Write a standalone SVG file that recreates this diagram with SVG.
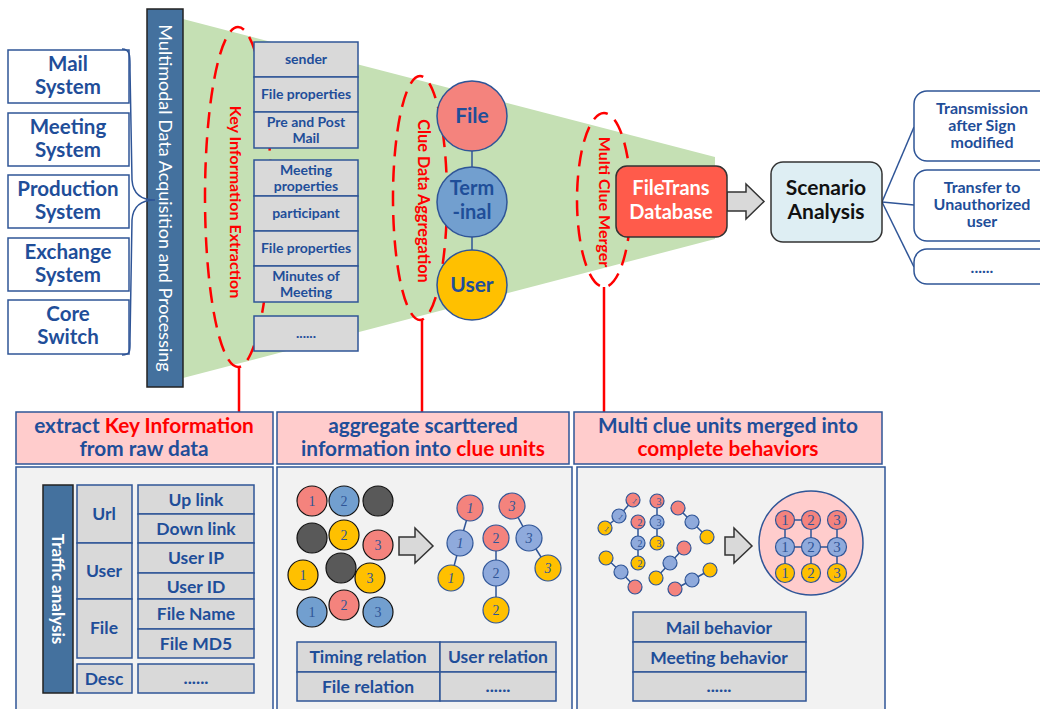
<svg xmlns="http://www.w3.org/2000/svg" width="1040" height="709" viewBox="0 0 1040 709">
  <defs>
    <style>
      .t { font-family: Lato, "Liberation Sans", sans-serif; font-weight: bold; fill: #1F4E99; text-anchor: middle; }
      .red { fill: #FF0000; }
      .wt { font-family: Lato, "Liberation Sans", sans-serif; fill: #FFFFFF; text-anchor: middle; }
      .num { font-family: "Liberation Serif", serif; fill: #2F5597; text-anchor: middle; }
      .sys { fill: #FFFFFF; stroke: #2F5597; stroke-width: 1.5; }
      .gbox { fill: #D9D9D9; stroke: #2F5597; stroke-width: 1.5; }
      .hdr { fill: #FFCCCC; stroke: #2F5597; stroke-width: 1.5; }
      .body { fill: #F2F2F2; stroke: #2F5597; stroke-width: 1.5; }
      .bar { fill: #44719E; stroke: #222222; stroke-width: 1.5; }
      .dash { fill: none; stroke: #FF0000; stroke-width: 2.5; stroke-dasharray: 16 9; }
      .rline { stroke: #FF0000; stroke-width: 2.5; fill: none; }
      .bl { stroke: #2F5597; stroke-width: 1.5; fill: none; }
      .cR { fill: #F4837D; stroke: #2F5597; stroke-width: 1.2; }
      .cB { fill: #8FAADC; stroke: #2F5597; stroke-width: 1.2; }
      .cY { fill: #FFC000; stroke: #2F5597; stroke-width: 1.2; }
      .kR { fill: #F4837D; stroke: #111111; stroke-width: 1.2; }
      .kB { fill: #729FCF; stroke: #111111; stroke-width: 1.2; }
      .kY { fill: #FFC000; stroke: #111111; stroke-width: 1.2; }
      .kD { fill: #595959; stroke: #111111; stroke-width: 1.2; }
      .blk { fill: #D9D9D9; stroke: #333333; stroke-width: 1.5; }
      .s21 { font-size: 20.5px; }
      .hd { font-size: 20.8px; }
      .s14 { font-size: 14px; }
      .s17 { font-size: 17.5px; }
      .s16 { font-size: 16px; }
    </style>
  </defs>

  <!-- funnel background -->
  <polygon points="183,19 715,157 715,239 183,378" fill="#C5E0B4"/>

  <!-- source systems -->
  <g id="mail-system">
    <rect class="sys" x="8" y="50" width="121" height="53"/>
    <text class="t s21" x="68" y="71">Mail</text>
    <text class="t s21" x="68" y="94">System</text>
  </g>
  <g id="meeting-system">
    <rect class="sys" x="8" y="113" width="121" height="53"/>
    <text class="t s21" x="68" y="134">Meeting</text>
    <text class="t s21" x="68" y="157">System</text>
  </g>
  <g id="production-system">
    <rect class="sys" x="8" y="175" width="121" height="53"/>
    <text class="t s21" x="68" y="196">Production</text>
    <text class="t s21" x="68" y="219">System</text>
  </g>
  <g id="exchange-system">
    <rect class="sys" x="8" y="238" width="121" height="53"/>
    <text class="t s21" x="68" y="259">Exchange</text>
    <text class="t s21" x="68" y="282">System</text>
  </g>
  <g id="core-switch">
    <rect class="sys" x="8" y="300" width="121" height="54"/>
    <text class="t s21" x="68" y="321">Core</text>
    <text class="t s21" x="68" y="344">Switch</text>
  </g>

  <!-- acquisition bar -->
  <g id="acquisition">
    <rect class="bar" x="147" y="9" width="36" height="378"/>
    <g transform="translate(165,198) rotate(90)">
      <text class="wt" font-size="18" x="0" y="6">Multimodal Data Acquisition and Processing</text>
    </g>
  </g>

  <!-- dashed stage ellipses -->
  <g id="stage-key-extraction">
    <ellipse class="dash" cx="238" cy="197" rx="33" ry="170"/>
    <g transform="translate(235,202) rotate(90)">
      <text class="t red" font-size="16" x="0" y="5.5">Key Information Extraction</text>
    </g>
  </g>
  <g id="stage-clue-aggregation">
    <ellipse class="dash" cx="420" cy="198" rx="27" ry="122"/>
    <g transform="translate(423,201) rotate(90)">
      <text class="t red" font-size="16.3" x="0" y="5.5">Clue Data Aggregation</text>
    </g>
  </g>
  <g id="stage-clue-merger">
    <ellipse class="dash" cx="604" cy="200" rx="27" ry="87"/>
    <g transform="translate(604,202) rotate(90)">
      <text class="t red" font-size="16" x="0" y="5.5">Multi Clue Merger</text>
    </g>
  </g>

  <!-- extracted key information -->
  <g id="key-info">
    <rect class="gbox" x="254" y="42" width="104" height="35"/>
    <text class="t s14" x="306" y="64">sender</text>
    <rect class="gbox" x="254" y="77" width="104" height="35"/>
    <text class="t s14" x="306" y="99">File properties</text>
    <rect class="gbox" x="254" y="112" width="104" height="36"/>
    <text class="t s14" x="306" y="127">Pre and Post</text>
    <text class="t s14" x="306" y="143">Mail</text>
    <rect class="gbox" x="254" y="160" width="104" height="36"/>
    <text class="t s14" x="306" y="175">Meeting</text>
    <text class="t s14" x="306" y="191">properties</text>
    <rect class="gbox" x="254" y="196" width="104" height="35"/>
    <text class="t s14" x="306" y="218">participant</text>
    <rect class="gbox" x="254" y="231" width="104" height="35"/>
    <text class="t s14" x="306" y="253">File properties</text>
    <rect class="gbox" x="254" y="266" width="104" height="36"/>
    <text class="t s14" x="306" y="281">Minutes of</text>
    <text class="t s14" x="306" y="297">Meeting</text>
    <rect class="gbox" x="254" y="316" width="104" height="35"/>
    <text class="t s14" x="306" y="338">......</text>
  </g>

  <!-- connectors -->
  <g id="connectors">
    <path class="bl" d="M122,49 C131,49 130,58 130,70 L132,180 C133,194 142,200 155,200 C142,200 133,206 132,220 L130,340 C130,350 131,355 122,355"/>
    <line class="bl" x1="472" y1="151" x2="472" y2="167"/>
    <line class="bl" x1="472" y1="237" x2="472" y2="250"/>
    <line class="rline" x1="239" y1="367" x2="239" y2="412"/>
    <line class="rline" x1="422" y1="320" x2="422" y2="412"/>
    <line class="rline" x1="604" y1="287" x2="604" y2="412"/>
    <polygon class="blk" points="727,192 746,192 746,184 764,201.5 746,219 746,211 727,211"/>
    <line class="bl" x1="882" y1="202" x2="914" y2="127"/>
    <line class="bl" x1="882" y1="202" x2="914" y2="205"/>
    <line class="bl" x1="882" y1="202" x2="914" y2="267"/>
  </g>

  <!-- clue units -->
  <g id="clue-file">
    <circle cx="472" cy="116" r="35" fill="#F4837D" stroke="#2F5597" stroke-width="1.5"/>
    <text class="t" font-size="21" x="472" y="123">File</text>
  </g>
  <g id="clue-terminal">
    <circle cx="472" cy="202" r="35" fill="#729FCF" stroke="#2F5597" stroke-width="1.5"/>
    <text class="t" font-size="20" x="472" y="195">Term</text>
    <text class="t" font-size="20" x="472" y="219">-inal</text>
  </g>
  <g id="clue-user">
    <circle cx="472" cy="285" r="35" fill="#FFC000" stroke="#2F5597" stroke-width="1.5"/>
    <text class="t" font-size="21" x="472" y="292">User</text>
  </g>

  <g id="filetrans-db">
    <rect x="616" y="166" width="111" height="71" rx="11" fill="#FF5B4B" stroke="#333333" stroke-width="1.5"/>
    <text class="wt" font-weight="bold" font-size="20" x="671" y="195">FileTrans</text>
    <text class="wt" font-weight="bold" font-size="20" x="671" y="219">Database</text>
  </g>

  <g id="scenario-analysis">
    <rect x="771" y="162" width="111" height="80" rx="12" fill="#DEEEF3" stroke="#333333" stroke-width="1.5"/>
    <text class="t" font-size="21" x="826" y="195" style="fill:#111111">Scenario</text>
    <text class="t" font-size="21" x="826" y="219" style="fill:#111111">Analysis</text>
  </g>

  <g id="scenario-sign-modified">
    <rect class="sys" x="914" y="91" width="140" height="70" rx="13"/>
    <text class="t s16" x="982" y="114">Transmission</text>
    <text class="t s16" x="982" y="131">after Sign</text>
    <text class="t s16" x="982" y="148">modified</text>
  </g>
  <g id="scenario-unauthorized">
    <rect class="sys" x="914" y="170" width="140" height="71" rx="13"/>
    <text class="t s16" x="982" y="193">Transfer to</text>
    <text class="t s16" x="982" y="210">Unauthorized</text>
    <text class="t s16" x="982" y="227">user</text>
  </g>
  <g id="scenario-more">
    <rect class="sys" x="914" y="249" width="140" height="35" rx="13"/>
    <text class="t s16" x="982" y="273">......</text>
  </g>

  <!-- panel 1: key information -->
  <g id="panel-extract">
    <rect class="hdr" x="16" y="412" width="257" height="52"/>
    <text class="t hd" x="144" y="433">extract <tspan class="red">Key Information</tspan></text>
    <text class="t hd" x="144" y="456">from raw data</text>
    <rect class="body" x="16" y="467" width="257" height="250"/>
    <rect class="bar" x="43" y="485" width="30" height="208"/>
    <g transform="translate(58,589) rotate(90)">
      <text class="wt" font-weight="bold" font-size="17" x="0" y="6">Traffic analysis</text>
    </g>
    <rect class="gbox" x="77" y="485" width="55" height="58"/>
    <text class="t s17" x="104" y="520">Url</text>
    <rect class="gbox" x="77" y="543" width="55" height="56"/>
    <text class="t s17" x="104" y="577">User</text>
    <rect class="gbox" x="77" y="599" width="55" height="59"/>
    <text class="t s17" x="104" y="634">File</text>
    <rect class="gbox" x="77" y="664" width="55" height="29"/>
    <text class="t s17" x="104" y="685">Desc</text>
    <rect class="gbox" x="138" y="485" width="116" height="29"/>
    <text class="t s17" x="196" y="506">Up link</text>
    <rect class="gbox" x="138" y="514" width="116" height="29"/>
    <text class="t s17" x="196" y="535">Down link</text>
    <rect class="gbox" x="138" y="543" width="116" height="30"/>
    <text class="t s17" x="196" y="564">User IP</text>
    <rect class="gbox" x="138" y="573" width="116" height="26"/>
    <text class="t s17" x="196" y="593">User ID</text>
    <rect class="gbox" x="138" y="599" width="116" height="30"/>
    <text class="t s17" x="196" y="620">File Name</text>
    <rect class="gbox" x="138" y="629" width="116" height="29"/>
    <text class="t s17" x="196" y="650">File MD5</text>
    <rect class="gbox" x="138" y="664" width="116" height="29"/>
    <text class="t s17" x="196" y="684">......</text>
  </g>

  <!-- panel 2: clue units -->
  <g id="panel-aggregate">
    <rect class="hdr" x="277" y="412" width="292" height="52"/>
    <text class="t hd" x="423" y="433">aggregate scarttered</text>
    <text class="t hd" x="423" y="456">information into <tspan class="red">clue units</tspan></text>
    <rect class="body" x="277" y="467" width="295" height="250"/>
    <!-- scattered pieces -->
    <circle class="kR" cx="312" cy="501" r="15"/><text class="num" font-size="14" x="312" y="506">1</text>
    <circle class="kB" cx="344" cy="501" r="15"/><text class="num" font-size="14" x="344" y="506">2</text>
    <circle class="kD" cx="378" cy="501" r="15"/>
    <circle class="kD" cx="312" cy="538" r="15"/>
    <circle class="kY" cx="344" cy="535" r="15"/><text class="num" font-size="14" x="344" y="540">2</text>
    <circle class="kR" cx="378" cy="545" r="15"/><text class="num" font-size="14" x="378" y="550">3</text>
    <circle class="kY" cx="303" cy="575" r="15"/><text class="num" font-size="14" x="303" y="580">1</text>
    <circle class="kD" cx="341" cy="568" r="15"/>
    <circle class="kY" cx="370" cy="578" r="15"/><text class="num" font-size="14" x="370" y="583">3</text>
    <circle class="kB" cx="312" cy="612" r="15"/><text class="num" font-size="14" x="312" y="617">1</text>
    <circle class="kR" cx="344" cy="605" r="15"/><text class="num" font-size="14" x="344" y="610">2</text>
    <circle class="kB" cx="378" cy="612" r="15"/><text class="num" font-size="14" x="378" y="617">3</text>
    <polygon class="blk" points="399,537 415,537 415,528 433,546 415,563 415,555 399,555"/>
    <!-- assembled trees -->
    <line class="bl" x1="470" y1="508" x2="460" y2="543"/>
    <line class="bl" x1="460" y1="543" x2="451" y2="578"/>
    <line class="bl" x1="496" y1="538" x2="496" y2="610"/>
    <line class="bl" x1="512" y1="506" x2="529" y2="538"/>
    <line class="bl" x1="529" y1="538" x2="548" y2="568"/>
    <circle class="cR" cx="470" cy="508" r="13"/><text class="num" font-style="italic" font-size="14" x="470" y="513">1</text>
    <circle class="cB" cx="460" cy="543" r="13"/><text class="num" font-style="italic" font-size="14" x="460" y="548">1</text>
    <circle class="cY" cx="451" cy="578" r="13"/><text class="num" font-style="italic" font-size="14" x="451" y="583">1</text>
    <circle class="cR" cx="496" cy="538" r="13"/><text class="num" font-size="14" x="496" y="543">2</text>
    <circle class="cB" cx="496" cy="573" r="13"/><text class="num" font-size="14" x="496" y="578">2</text>
    <circle class="cY" cx="496" cy="610" r="13"/><text class="num" font-size="14" x="496" y="615">2</text>
    <circle class="cR" cx="512" cy="506" r="13"/><text class="num" font-style="italic" font-size="14" x="512" y="511">3</text>
    <circle class="cB" cx="529" cy="538" r="13"/><text class="num" font-style="italic" font-size="14" x="529" y="543">3</text>
    <circle class="cY" cx="548" cy="568" r="13"/><text class="num" font-style="italic" font-size="14" x="548" y="573">3</text>
    <!-- relation table -->
    <rect class="gbox" x="297" y="642" width="143" height="30"/>
    <rect class="gbox" x="440" y="642" width="116" height="30"/>
    <rect class="gbox" x="297" y="672" width="143" height="29"/>
    <rect class="gbox" x="440" y="672" width="116" height="29"/>
    <text class="t" font-size="17.5" x="368" y="663">Timing relation</text>
    <text class="t" font-size="17.5" x="498" y="663">User relation</text>
    <text class="t" font-size="17.5" x="368" y="693">File relation</text>
    <text class="t" font-size="17.5" x="498" y="692">......</text>
  </g>

  <!-- panel 3: complete behaviours -->
  <g id="panel-merge">
    <rect class="hdr" x="574" y="412" width="308" height="52"/>
    <text class="t hd" x="728" y="433">Multi clue units merged into</text>
    <text class="t hd red" x="728" y="456">complete behaviors</text>
    <rect class="body" x="577" y="467" width="308" height="250"/>
    <!-- loose chains -->
    <path class="bl" d="M633,500 L619,516 L605,528 M638,522 L638,563 M657,501 L657,543 M678,508 L692,522 L707,537 M606,558 L621,572 L635,587 M684,548 L670,563 L656,578 M710,570 L692,580 L675,589"/>
    <circle class="cR" cx="633" cy="500" r="7"/><text class="num" font-size="8" transform="translate(633,503) rotate(40)">1</text>
    <circle class="cB" cx="619" cy="516" r="7"/><text class="num" font-size="8" transform="translate(619,519) rotate(40)">1</text>
    <circle class="cY" cx="605" cy="528" r="7"/><text class="num" font-size="8" transform="translate(605,531) rotate(40)">1</text>
    <circle class="cR" cx="638" cy="522" r="7"/><text class="num" font-size="10" x="640" y="526">2</text>
    <circle class="cB" cx="638" cy="543" r="7"/><text class="num" font-size="10" x="640" y="547">2</text>
    <circle class="cY" cx="638" cy="563" r="7"/><text class="num" font-size="10" x="640" y="567">2</text>
    <circle class="cR" cx="657" cy="501" r="7"/><text class="num" font-size="10" x="659" y="505">3</text>
    <circle class="cB" cx="657" cy="522" r="7"/><text class="num" font-size="10" x="659" y="526">3</text>
    <circle class="cY" cx="657" cy="543" r="7"/><text class="num" font-size="10" x="659" y="547">3</text>
    <circle class="cR" cx="678" cy="508" r="7"/>
    <circle class="cB" cx="692" cy="522" r="7"/>
    <circle class="cY" cx="707" cy="537" r="7"/>
    <circle class="cY" cx="606" cy="558" r="7"/>
    <circle class="cB" cx="621" cy="572" r="7"/>
    <circle class="cR" cx="635" cy="587" r="7"/>
    <circle class="cR" cx="684" cy="548" r="7"/>
    <circle class="cB" cx="670" cy="563" r="7"/>
    <circle class="cY" cx="656" cy="578" r="7"/>
    <circle class="cY" cx="710" cy="570" r="7"/>
    <circle class="cB" cx="692" cy="580" r="7"/>
    <circle class="cR" cx="675" cy="589" r="7"/>
    <polygon class="blk" points="725,537 734,537 734,528 752,546 734,563 734,555 725,555"/>
    <!-- merged behaviour -->
    <circle cx="811" cy="543" r="52" fill="#FFCCCC" stroke="#2F5597" stroke-width="1.5"/>
    <path class="bl" d="M785,520 L811,520 M785,547 L837,547 M785,520 L785,573 M811,520 L811,573 M837,520 L837,573"/>
    <circle class="cR" cx="785" cy="520" r="9.5"/><text class="num" font-size="15" x="785" y="525">1</text>
    <circle class="cR" cx="811" cy="520" r="9.5"/><text class="num" font-size="15" x="811" y="525">2</text>
    <circle class="cR" cx="837" cy="520" r="9.5"/><text class="num" font-size="15" x="837" y="525">3</text>
    <circle class="cB" cx="785" cy="547" r="9.5"/><text class="num" font-size="15" x="785" y="552">1</text>
    <circle class="cB" cx="811" cy="547" r="9.5"/><text class="num" font-size="15" x="811" y="552">2</text>
    <circle class="cB" cx="837" cy="547" r="9.5"/><text class="num" font-size="15" x="837" y="552">3</text>
    <circle class="cY" cx="785" cy="573" r="9.5"/><text class="num" font-size="15" x="785" y="578">1</text>
    <circle class="cY" cx="811" cy="573" r="9.5"/><text class="num" font-size="15" x="811" y="578">2</text>
    <circle class="cY" cx="837" cy="573" r="9.5"/><text class="num" font-size="15" x="837" y="578">3</text>
    <!-- behaviour table -->
    <rect class="gbox" x="633" y="612" width="173" height="30"/>
    <rect class="gbox" x="633" y="642" width="173" height="30"/>
    <rect class="gbox" x="633" y="672" width="173" height="29"/>
    <text class="t" font-size="17.5" x="719" y="634">Mail behavior</text>
    <text class="t" font-size="17.5" x="719" y="664">Meeting behavior</text>
    <text class="t" font-size="17.5" x="719" y="692">......</text>
  </g>
</svg>
